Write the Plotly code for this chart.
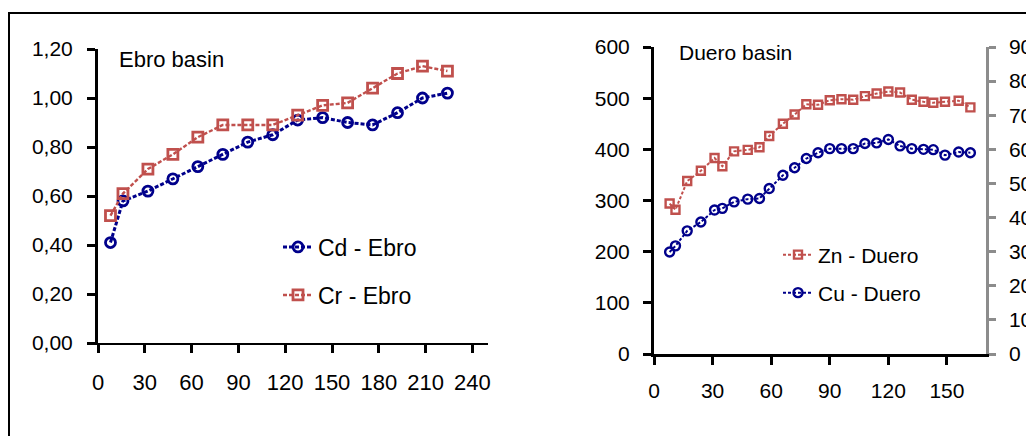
import plotly.graph_objects as go

# ---------------- data ----------------
ebro_days = [8, 16, 32, 48, 64, 80, 96, 112, 128, 144, 160, 176, 192, 208, 224]
cd_ebro = [0.41, 0.58, 0.62, 0.67, 0.72, 0.77, 0.82, 0.85, 0.91, 0.92, 0.90, 0.89, 0.94, 1.00, 1.02]
cr_ebro = [0.52, 0.61, 0.71, 0.77, 0.84, 0.89, 0.89, 0.89, 0.93, 0.97, 0.98, 1.04, 1.10, 1.13, 1.11]

duero_days = [8, 11, 17, 24, 31, 35, 41, 48, 54, 59, 66, 72, 78, 84, 90, 96, 102, 108,
              114, 120, 126, 132, 138, 143, 149, 156, 162]
zn_duero = [294, 282, 338, 358, 383, 367, 396, 399, 404, 426, 450, 468, 488, 487, 496, 498,
            497, 504, 509, 513, 511, 497, 493, 491, 493, 495, 482]
cu_duero = [29.9, 31.7, 36.1, 38.7, 42.2, 42.7, 44.6, 45.4, 45.6, 48.5, 52.4, 54.6, 57.3, 59.0,
            60.2, 60.2, 60.2, 61.7, 61.9, 62.9, 61.0, 60.2, 60.0, 59.9, 58.3, 59.2, 59.0]

ebro_xticks = [0, 30, 60, 90, 120, 150, 180, 210, 240]
ebro_yticks = [0, 0.2, 0.4, 0.6, 0.8, 1.0, 1.2]
duero_xticks = [0, 30, 60, 90, 120, 150]
duero_yticks = [0, 100, 200, 300, 400, 500, 600]
duero_y2ticks = [0, 10, 20, 30, 40, 50, 60, 70, 80, 90]

# ---------------- styling ----------------
W, H = 1034, 436
OFF = 8  # page body margin of the html page
FONT = "Arial, Liberation Sans, sans-serif"
BLUE = "#00008B"
RED = "#C0504D"
GREY = "#8C8C8C"


def px(x):
    return (x - OFF) / W


def py(y):
    return 1 - (y - OFF) / H


fig = go.Figure()

fig.add_trace(go.Scatter(
    x=ebro_days, y=cd_ebro, name="Cd - Ebro", xaxis="x", yaxis="y", legend="legend",
    mode="lines+markers",
    line=dict(color=BLUE, width=3, dash="4px,2px"),
    marker=dict(symbol="circle-open", size=10, color=BLUE, line=dict(width=2.8, color=BLUE)),
))
fig.add_trace(go.Scatter(
    x=ebro_days, y=cr_ebro, name="Cr - Ebro", xaxis="x", yaxis="y", legend="legend2",
    mode="lines+markers",
    line=dict(color=RED, width=2.4, dash="4px,2px"),
    marker=dict(symbol="square-open", size=10, color=RED, line=dict(width=2.8, color=RED)),
))
fig.add_trace(go.Scatter(
    x=duero_days, y=zn_duero, name="Zn - Duero", xaxis="x2", yaxis="y2", legend="legend3",
    mode="lines+markers",
    line=dict(color=RED, width=2, dash="3px,2px"),
    marker=dict(symbol="square-open", size=8, color=RED, line=dict(width=2.4, color=RED)),
))
fig.add_trace(go.Scatter(
    x=duero_days, y=cu_duero, name="Cu - Duero", xaxis="x2", yaxis="y3", legend="legend4",
    mode="lines+markers",
    line=dict(color=BLUE, width=2, dash="3px,2px"),
    marker=dict(symbol="circle-open", size=9, color=BLUE, line=dict(width=2.4, color=BLUE)),
))

axis_common = dict(
    showgrid=False, zeroline=False, showline=True, linecolor="black", automargin=False,
    ticks="outside", ticklen=8, tickwidth=2.5, tickcolor="black",
    tickfont=dict(family=FONT, size=21, color="black"),
)

fig.update_layout(
    width=W, height=H, autosize=False,
    margin=dict(l=0, r=0, t=0, b=0),
    paper_bgcolor="white", plot_bgcolor="rgba(0,0,0,0)",
    separators=", ",
    font=dict(family=FONT, color="black"),
    xaxis=dict(axis_common, domain=[px(98), px(488)], range=[0, 250],
               tickvals=ebro_xticks, linewidth=2, anchor="y", ticklabelstandoff=11,
               tickfont=dict(family=FONT, size=22, color="black")),
    yaxis=dict(axis_common, domain=[py(343), py(49)], range=[0, 1.2],
               tickvals=ebro_yticks, tickformat=".2f", linewidth=3, anchor="x",
               ticklabelstandoff=10),
    xaxis2=dict(axis_common, domain=[px(654), px(986)], range=[0, 170],
                tickvals=duero_xticks, linewidth=2.5, anchor="y2", ticklabelstandoff=8,
                tickfont=dict(family=FONT, size=21, color="black")),
    yaxis2=dict(axis_common, domain=[py(354), py(47)], range=[0, 600],
                tickvals=duero_yticks, linewidth=3, anchor="x2", ticklabelstandoff=9,
                tickfont=dict(family=FONT, size=21, color="black")),
    yaxis3=dict(axis_common, domain=[py(354), py(47)], range=[0, 90],
                tickvals=duero_y2ticks, overlaying="y2", side="right", anchor="x2",
                linecolor=GREY, tickcolor=GREY, linewidth=2.5, ticklen=7,
                ticklabelstandoff=9,
                tickfont=dict(family=FONT, size=21, color="black")),
    legend=dict(x=px(278), y=py(247), xanchor="left", yanchor="middle",
                bgcolor="rgba(0,0,0,0)", font=dict(family=FONT, size=23, color="black")),
    legend2=dict(x=px(278), y=py(295), xanchor="left", yanchor="middle",
                 bgcolor="rgba(0,0,0,0)", font=dict(family=FONT, size=23, color="black")),
    legend3=dict(x=px(778), y=py(255), xanchor="left", yanchor="middle",
                 bgcolor="rgba(0,0,0,0)", font=dict(family=FONT, size=21, color="black")),
    legend4=dict(x=px(778), y=py(293), xanchor="left", yanchor="middle",
                 bgcolor="rgba(0,0,0,0)", font=dict(family=FONT, size=21, color="black")),
    showlegend=True,
)

fig.add_annotation(text="Ebro basin", xref="paper", yref="paper", x=px(117), y=py(59),
                   xanchor="left", yanchor="middle", showarrow=False,
                   font=dict(family=FONT, size=22, color="black"))
fig.add_annotation(text="Duero basin", xref="paper", yref="paper", x=px(677), y=py(52),
                   xanchor="left", yanchor="middle", showarrow=False,
                   font=dict(family=FONT, size=21, color="black"))

# outer frame (top and left edges visible in the crop)
fig.add_shape(type="line", xref="paper", yref="paper", x0=px(8), x1=1.0, y0=py(13), y1=py(13),
              line=dict(color="black", width=2))
fig.add_shape(type="line", xref="paper", yref="paper", x0=px(9), x1=px(9), y0=py(13), y1=0,
              line=dict(color="black", width=2))

fig.write_html("out.html")
